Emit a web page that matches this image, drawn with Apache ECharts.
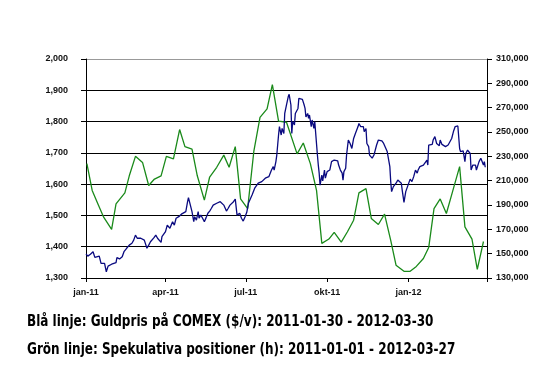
<!DOCTYPE html>
<html>
<head>
<meta charset="utf-8">
<script src="https://cdn.jsdelivr.net/npm/echarts@6/dist/echarts.min.js"></script>
<style>html,body{margin:0;padding:0;background:#fff}#c{width:556px;height:386px}</style>
</head>
<body>
<div id="c"></div>
<script>
// x positions are day offsets from the start date (2011-01-01)
var startDate = '2011-01-01';
var endDate = '2012-03-30';
var tickDates = ['2011-01-01', '2011-04-01', '2011-07-01', '2011-10-01', '2012-01-01', '2012-03-30'];
var tickLabels = ['jan-11', 'apr-11', 'jul-11', 'okt-11', 'jan-12', ''];
var leftTicks = [1300, 2000, 100];
var rightTicks = [130000, 310000, 20000];

var blueDays = [0,2,5,8,10,12,15,17,19,21,23,25,27,29,31,34,35,38,41,43,46,49,51,52,54,56,58,60,62,64,66,68,69,71,73,75,77,79,81,83,85,86,88,90,92,95,98,100,102,105,108,110,113,115,116,118,120,122,123,125,127,128,130,132,134,136,138,140,142,144,146,148,150,152,154,156,157,159,161,163,165,167,169,171,173,174,176,178,180,182,184,186,188,190,191,193,195,197,199,201,203,205,207,208,210,212,213,215,216,217,218,219,221,222,224,225,227,229,230,232,233,234,236,237,239,240,241,243,245,247,248,249,251,252,253,255,256,258,259,261,262,263,264,265,267,268,270,271,273,274,276,278,279,281,283,285,286,288,290,291,292,294,295,297,299,301,303,305,306,308,309,311,312,314,315,317,318,320,321,323,324,326,327,329,331,333,335,337,339,341,343,344,345,346,348,349,351,353,355,357,358,360,362,364,365,367,369,371,373,375,376,378,380,382,384,386,387,388,390,392,393,395,397,399,400,401,403,405,407,409,410,412,414,416,418,420,421,423,424,426,427,429,430,432,433,435,436,438,439,441,442,444,445,447,448,450,451,452];
var blueValues = [1377,1370,1376,1384,1366,1361,1370,1347,1342,1347,1320,1338,1333,1344,1338,1349,1365,1361,1368,1384,1395,1405,1408,1411,1421,1437,1427,1432,1427,1429,1421,1416,1395,1405,1416,1421,1429,1437,1427,1424,1414,1432,1432,1448,1469,1459,1480,1469,1491,1496,1504,1507,1512,1544,1557,1555,1512,1480,1496,1485,1512,1491,1501,1491,1480,1493,1507,1514,1523,1533,1528,1539,1541,1544,1541,1533,1528,1514,1523,1533,1539,1544,1552,1501,1496,1507,1491,1482,1495,1510,1540,1542,1565,1571,1587,1595,1603,1597,1608,1603,1619,1613,1624,1629,1645,1656,1645,1672,1693,1725,1757,1784,1757,1778,1762,1826,1853,1880,1887,1853,1762,1800,1789,1826,1821,1842,1874,1869,1871,1853,1842,1815,1826,1810,1821,1784,1805,1778,1800,1794,1693,1661,1635,1597,1629,1610,1645,1619,1640,1635,1645,1672,1667,1677,1680,1674,1661,1645,1635,1613,1640,1651,1693,1741,1730,1714,1746,1762,1757,1784,1794,1784,1778,1784,1768,1778,1730,1720,1693,1698,1683,1693,1698,1725,1741,1736,1738,1730,1725,1704,1672,1656,1608,1576,1592,1597,1603,1613,1608,1603,1581,1542,1576,1592,1597,1616,1608,1624,1645,1635,1645,1656,1651,1661,1667,1677,1661,1725,1730,1727,1741,1752,1730,1736,1723,1741,1727,1725,1720,1717,1725,1727,1746,1768,1784,1778,1786,1714,1704,1702,1706,1672,1698,1709,1704,1698,1645,1661,1656,1661,1645,1651,1672,1683,1677,1661,1672,1654];

var greenDays = [1,7,14,20,29,34,44,49,56,64,71,77,85,91,99,106,112,120,126,134,140,148,156,162,169,175,183,190,197,205,211,218,227,239,246,254,261,267,275,281,289,296,303,309,317,323,331,338,345,351,360,367,374,382,388,394,401,408,415,423,429,437,443,450];
var greenValues = [224000,202000,190000,180000,170000,191000,200000,214000,230000,225000,206000,211000,214000,230000,228000,252000,238000,236000,214000,194000,213000,221000,231000,221000,238000,195000,187000,234000,262000,269000,289000,259000,258000,232000,241000,224000,202000,158500,162000,167500,159500,168000,177500,200000,203500,179000,174000,182500,161000,140500,135500,135500,139500,146000,155000,187000,195000,183000,201000,221500,172000,162000,137000,160000];

var captionBlue = 'Blå linje: Guldpris på COMEX ($/v): 2011-01-30 - 2012-03-30';
var captionGreen = 'Grön linje: Spekulativa positioner (h): 2011-01-01 - 2012-03-27';

function parseD(s) { var p = s.split('-'); return Date.UTC(+p[0], +p[1] - 1, +p[2]); }
var t0 = parseD(startDate);
function dayOf(s) { return Math.round((parseD(s) - t0) / 86400000); }
var tickDays = tickDates.map(dayOf);
function fmtNum(v) { return String(v).replace(/\B(?=(\d{3})+(?!\d))/g, ','); }

var blueData = blueDays.map(function (d, i) { return [d, blueValues[i]]; });
var greenData = greenDays.map(function (d, i) { return [d, greenValues[i]]; });

var capFont = "bold 16px 'DejaVu Sans Condensed', 'DejaVu Sans', sans-serif";
var lblFont = "'Liberation Sans', Arial, sans-serif";

var chart = echarts.init(document.getElementById('c'), null, { renderer: 'canvas' });
chart.setOption({
  animation: false,
  backgroundColor: '#fff',
  graphic: [
    { type: 'text', x: 27, y: 314, scaleX: 0.836, style: { text: captionBlue, font: capFont, fill: '#000', verticalAlign: 'top' } },
    { type: 'text', x: 27, y: 342, scaleX: 0.836, style: { text: captionGreen, font: capFont, fill: '#000', verticalAlign: 'top' } }
  ],
  grid: { left: 86, right: 69, top: 59, bottom: 108, containLabel: false },
  xAxis: {
    type: 'value',
    min: 0,
    max: dayOf(endDate),
    axisLine: { show: true, lineStyle: { color: '#000', width: 1 } },
    axisTick: { show: true, length: 4, lineStyle: { color: '#000' }, customValues: tickDays },
    axisLabel: {
      customValues: tickDays.slice(0, 5),
      formatter: function (v) {
        var i = tickDays.indexOf(v);
        return i >= 0 ? tickLabels[i] : '';
      },
      fontFamily: lblFont, fontSize: 9, fontWeight: 'bold', color: '#111', margin: 10
    },
    splitLine: { show: false }
  },
  yAxis: [
    {
      type: 'value', min: leftTicks[0], max: leftTicks[1], interval: leftTicks[2],
      axisLine: { show: true, lineStyle: { color: '#000' } },
      axisTick: { show: true, length: 5, lineStyle: { color: '#000' } },
      axisLabel: { formatter: fmtNum, fontFamily: lblFont, fontSize: 9, fontWeight: 'bold', color: '#111', margin: 18 },
      splitLine: { show: true, lineStyle: { color: ['#000', '#000', '#000', '#000', '#000', '#000', '#000', '#999'], width: 1 } }
    },
    {
      type: 'value', min: rightTicks[0], max: rightTicks[1], interval: rightTicks[2],
      axisLine: { show: true, lineStyle: { color: '#000' } },
      axisTick: { show: true, length: 5, lineStyle: { color: '#000' } },
      axisLabel: { formatter: fmtNum, fontFamily: lblFont, fontSize: 9, fontWeight: 'bold', color: '#111', margin: 9 },
      splitLine: { show: false }
    }
  ],
  series: [
    { type: 'line', yAxisIndex: 1, data: greenData, showSymbol: false, lineStyle: { color: '#1a8a1a', width: 1.3 }, z: 2 },
    { type: 'line', yAxisIndex: 0, data: blueData, showSymbol: false, lineStyle: { color: '#0a0a80', width: 1.3 }, z: 3 }
  ]
});
</script>
</body>
</html>
